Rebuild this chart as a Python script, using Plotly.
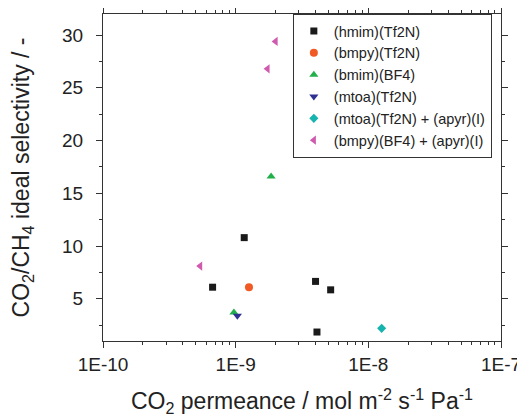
import plotly.graph_objects as go

# Data
names = ["(hmim)(Tf2N)", "(bmpy)(Tf2N)", "(bmim)(BF4)", "(mtoa)(Tf2N)",
         "(mtoa)(Tf2N) + (apyr)(I)", "(bmpy)(BF4) + (apyr)(I)"]
hmim_x = [6.7e-10, 1.16e-9, 4.0e-9, 5.2e-9, 4.1e-9]
hmim_y = [6.1, 10.8, 6.65, 5.85, 1.85]
bmpy_x = [1.26e-9]
bmpy_y = [6.1]
bmim_x = [9.7e-10, 1.85e-9]
bmim_y = [3.7, 16.6]
mtoa_x = [1.03e-9]
mtoa_y = [3.4]
mtoa_apyr_x = [1.26e-8]
mtoa_apyr_y = [2.2]
bmpy_apyr_x = [5.4e-10, 1.74e-9, 2.0e-9]
bmpy_apyr_y = [8.1, 26.8, 29.4]

x_tickvals = [1e-10, 1e-9, 1e-8, 1e-7]
x_ticktext = ["1E-10", "1E-9", "1E-8", "1E-7"]
y_tickvals = [5, 10, 15, 20, 25, 30]

series = [
    (names[0], hmim_x, hmim_y, "square", "#1a1a1a", 7),
    (names[1], bmpy_x, bmpy_y, "circle", "#f15a24", 8),
    (names[2], bmim_x, bmim_y, "triangle-up", "#22b04b", 8),
    (names[3], mtoa_x, mtoa_y, "triangle-down", "#2e3192", 8),
    (names[4], mtoa_apyr_x, mtoa_apyr_y, "diamond", "#17b3ae", 7),
    (names[5], bmpy_apyr_x, bmpy_apyr_y, "triangle-left", "#cf5aae", 8),
]

fig = go.Figure()
for name, xs, ys, sym, col, sz in series:
    fig.add_trace(go.Scatter(x=xs, y=ys, mode="markers", name=name,
                             marker=dict(symbol=sym, color=col, size=sz,
                                         line=dict(width=0))))

font = "Liberation Sans, Arial, sans-serif"
# page body has an 8px margin, so the figure is sized/offset to compensate
fig.update_layout(
    width=517, height=412,
    margin=dict(l=95, r=24, t=6, b=79, autoexpand=False),
    plot_bgcolor="white", paper_bgcolor="white",
    font=dict(family=font, color="#222", size=18),
    showlegend=True,
    legend=dict(x=0.477, y=1.0, xanchor="left", yanchor="top",
                bgcolor="white", bordercolor="#333", borderwidth=1,
                font=dict(size=14.5, family=font, color="#222"),
                tracegroupgap=0, itemwidth=30),
)
fig.update_xaxes(
    type="log", range=[-10, -7], automargin=False,
    tickvals=x_tickvals, ticktext=x_ticktext,
    ticks="outside", ticklen=6, tickcolor="#333",
    showline=True, linecolor="#333", linewidth=1, mirror="allticks",
    showgrid=False, zeroline=False,
    minor=dict(ticks="outside", ticklen=3, dtick="D1", tickcolor="#333", showgrid=False),
    title=dict(text="CO<sub>2</sub> permeance / mol m<sup>-2</sup> s<sup>-1</sup> Pa<sup>-1</sup>",
               font=dict(size=23), standoff=19),
    tickfont=dict(size=19),
)
fig.update_yaxes(
    range=[1, 32], tickvals=y_tickvals, automargin=False,
    ticks="outside", ticklen=6, tickcolor="#333",
    showline=True, linecolor="#333", linewidth=1, mirror="allticks",
    showgrid=False, zeroline=False,
    minor=dict(ticks="outside", ticklen=3, dtick=2.5, tick0=0, tickcolor="#333", showgrid=False),
    title=dict(text="CO<sub>2</sub>/CH<sub>4</sub> ideal selectivity / -",
               font=dict(size=23), standoff=36),
    tickfont=dict(size=19), ticklabelstandoff=9,
)

fig.write_html("out.html")
